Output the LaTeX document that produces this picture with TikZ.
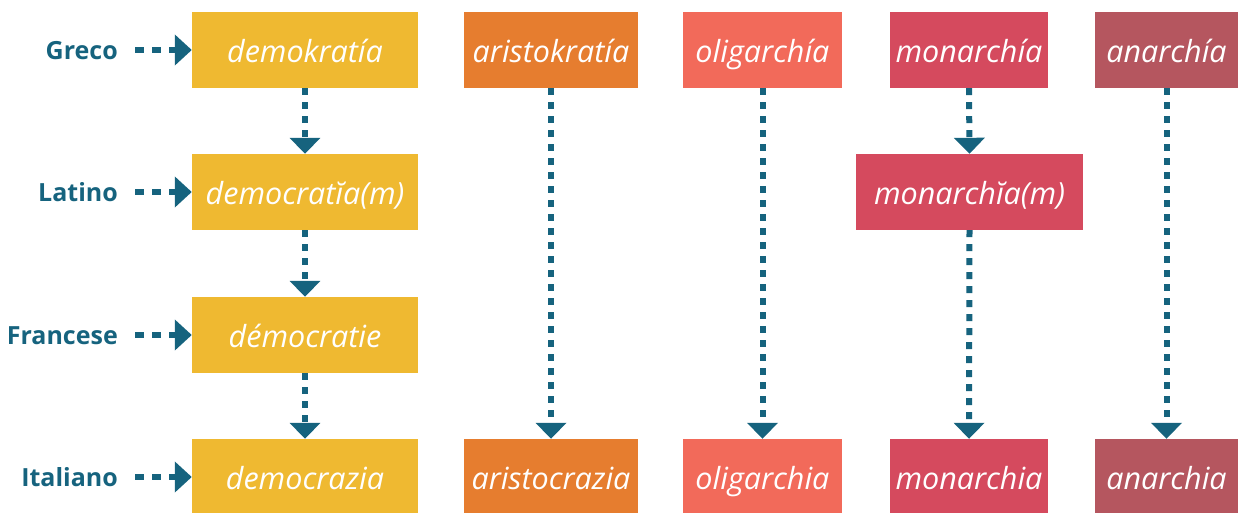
\documentclass[tikz,border=0pt]{standalone}
\usepackage{fontspec}
\setmainfont{Open Sans}
\usetikzlibrary{arrows.meta}
\definecolor{cyel}{HTML}{EFB931}
\definecolor{cora}{HTML}{E67D2F}
\definecolor{csal}{HTML}{F26A5A}
\definecolor{cred}{HTML}{D54A5E}
\definecolor{cmau}{HTML}{B5565F}
\definecolor{cteal}{HTML}{16637E}
\tikzset{
  word/.style={fill=#1, inner sep=0pt, minimum height=76pt, text=white,
    text height=30pt, text depth=6pt,
    font=\fontsize{30.5}{32}\selectfont\itshape},
  lang/.style={anchor=east, text=cteal, font=\fontsize{25}{28}\selectfont\bfseries,
    inner sep=0pt, text height=20pt, text depth=2pt},
  harr/.style={draw=cteal, line width=6pt, dash pattern=on 9pt off 8pt,
    -{Triangle[width=30pt,length=17pt]}},
  varr/.style={draw=cteal, line width=6pt, dash pattern=on 7pt off 7pt,
    -{Triangle[width=30pt,length=16pt]}}
}
\begin{document}
\begin{tikzpicture}[x=1pt,y=-1pt]
\useasboundingbox (0,0) rectangle (1251,512);
% column 1
\node[word=cyel, minimum width=226pt] (g1) at (305,50) {demokratía};
\node[word=cyel, minimum width=226pt] (l1) at (305,192) {democratĭa(m)};
\node[word=cyel, minimum width=226pt] (f1) at (305,335) {démocratie};
\node[word=cyel, minimum width=226pt] (i1) at (305,477) {democrazia};
% column 2
\node[word=cora, minimum width=174pt] (g2) at (551,50) {aristokratía};
\node[word=cora, minimum width=174pt] (i2) at (551,477) {aristocrazia};
% column 3
\node[word=csal, minimum width=159pt] (g3) at (762.5,50) {oligarchía};
\node[word=csal, minimum width=159pt] (i3) at (762.5,477) {oligarchia};
% column 4
\node[word=cred, minimum width=158pt] (g4) at (969,50) {monarchía};
\node[word=cred, minimum width=227pt] (l4) at (969.5,192) {monarchĭa(m)};
\node[word=cred, minimum width=158pt] (i4) at (969,477) {monarchia};
% column 5
\node[word=cmau, minimum width=143pt] (g5) at (1166.5,50) {anarchía};
\node[word=cmau, minimum width=143pt] (i5) at (1166.5,477) {anarchia};
% language labels
\node[lang] (tg) at (118,50) {Greco};
\node[lang] (tl) at (118,192) {Latino};
\node[lang] (tf) at (118,335) {Francese};
\node[lang] (ti) at (118,477) {Italiano};
% horizontal arrows
\draw[harr] (tg.east) ++(17,0) -- (g1.west);
\draw[harr] (tl.east) ++(17,0) -- (l1.west);
\draw[harr] (tf.east) ++(17,0) -- (f1.west);
\draw[harr] (ti.east) ++(17,0) -- (i1.west);
% vertical arrows
\draw[varr] (g1.south) -- (l1.north);
\draw[varr] (l1.south) -- (f1.north);
\draw[varr] (f1.south) -- (i1.north);
\draw[varr] (g2.south) -- (i2.north);
\draw[varr] (g3.south) -- (i3.north);
\draw[varr] (g4.south) -- (l4.north);
\draw[varr] (l4.south) -- (i4.north);
\draw[varr] (g5.south) -- (i5.north);
\end{tikzpicture}
\end{document}
